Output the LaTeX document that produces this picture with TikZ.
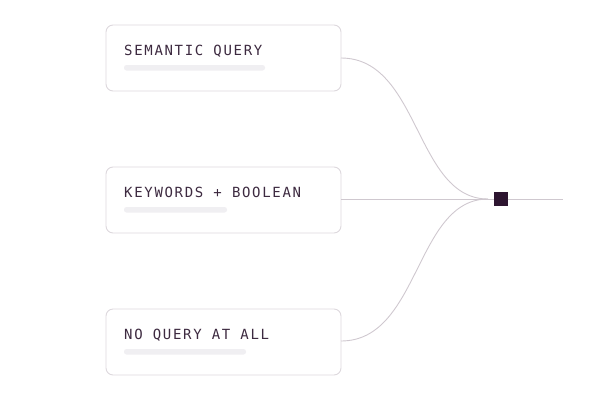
\documentclass[tikz,border=0pt]{standalone}
\usepackage{fontspec}
\newfontfamily\monof[LetterSpace=12]{DejaVu Sans Mono}
\definecolor{boxline}{HTML}{DDD8DD}
\definecolor{conn}{HTML}{CFC8CF}
\definecolor{txt}{HTML}{3D2A40}
\definecolor{barc}{HTML}{F0EFF2}
\definecolor{sq}{HTML}{2D1530}
\begin{document}
\begin{tikzpicture}[x=1pt,y=-1pt,
  card/.style={draw=boxline,line width=0.9pt,rounded corners=7pt,fill=white},
  lbl/.style={anchor=base west,inner sep=0pt,text=txt,font=\monof\fontsize{14}{15}\selectfont},
  bar/.style={fill=barc,rounded corners=2.5pt},
  connl/.style={draw=conn,line width=0.9pt}]
\useasboundingbox (0,0) rectangle (600,400);
% cards
\draw[card] (106,25) rectangle (341,91);
\draw[card] (106,167) rectangle (341,233);
\draw[card] (106,309) rectangle (341,375);
\node[lbl] (t1) at (124,55.5) {SEMANTIC QUERY};
\node[lbl] (t2) at (124,197.5) {KEYWORDS + BOOLEAN};
\node[lbl] (t3) at (124,339.5) {NO QUERY AT ALL};
\fill[bar] (124,65) rectangle (265,70.5);
\fill[bar] (124,207) rectangle (227,212.5);
\fill[bar] (124,349) rectangle (246,354.5);
\coordinate (o1) at (341,58);
\coordinate (o2) at (341,199);
\coordinate (o3) at (341,341);
\coordinate (m) at (488,199);
\coordinate (e) at (563,199);
\node[fill=sq,draw=sq,minimum size=13pt,inner sep=0pt] (s) at (501,199) {};
\draw[connl] (o1) .. controls (420,58) and (415,199) .. (m);
\draw[connl] (o3) .. controls (420,341) and (415,199) .. (m);
\draw[connl] (o2) -- (s.west);
\draw[connl] (s.east) -- (e);
\end{tikzpicture}
\end{document}
